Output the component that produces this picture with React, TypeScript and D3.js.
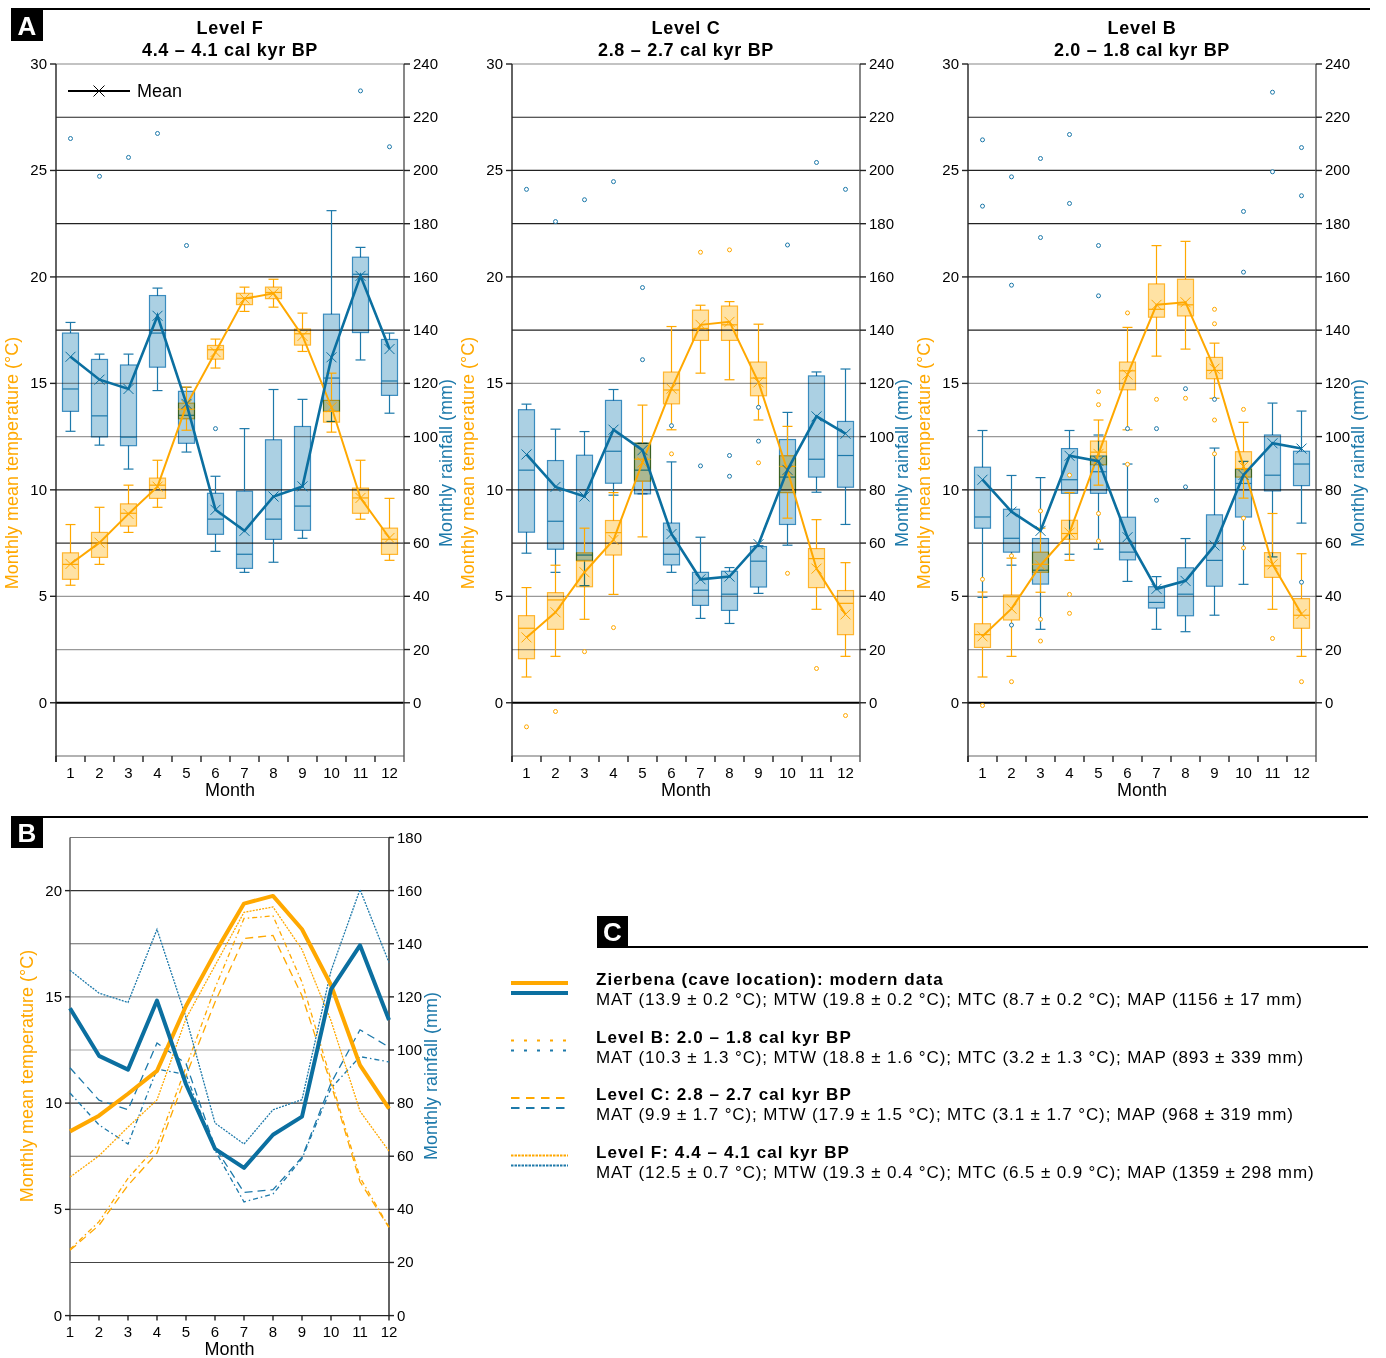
import React from "react";
import * as d3 from "d3";

// months and ticks
const months = [1, 2, 3, 4, 5, 6, 7, 8, 9, 10, 11, 12];
const tempTicksA = [0, 5, 10, 15, 20, 25, 30];
const rainTicksA = [0, 20, 40, 60, 80, 100, 120, 140, 160, 180, 200, 220, 240];
const tempTicksB = [0, 5, 10, 15, 20];
const rainTicksB = [0, 20, 40, 60, 80, 100, 120, 140, 160, 180];

// box stats per month: [low whisker, q1, median, q3, high whisker, mean]
const levelFTemp = [
  [5.52, 5.8, 6.5, 7.04, 8.37, 6.52], [6.5, 6.83, 7.5, 8.0, 9.18, 7.52],
  [8.0, 8.3, 8.9, 9.34, 10.22, 8.87], [9.18, 9.6, 10.22, 10.55, 11.39, 10.15],
  [12.8, 13.34, 13.79, 14.07, 14.83, 13.98], [15.72, 16.14, 16.58, 16.78, 17.08, 16.47],
  [18.38, 18.7, 19.0, 19.23, 19.52, 18.98], [18.58, 18.98, 19.27, 19.52, 19.89, 19.23],
  [16.5, 16.8, 17.33, 17.55, 18.3, 17.23], [12.71, 13.18, 13.68, 14.2, 15.48, 13.88],
  [8.62, 8.9, 9.62, 10.08, 11.39, 9.62], [6.69, 6.97, 7.68, 8.2, 9.6, 7.74],
];
const levelFRain = [
  [102, 109.5, 117.9, 138.9, 142.9, 130], [96.8, 99.9, 107.8, 129, 131, 121.4],
  [87.8, 96.6, 99.8, 126.9, 131, 117.9], [117.3, 126.1, 138.9, 153, 155.8, 145.4],
  [94.2, 97.5, 108, 117, 118.5, 112.3], [56.9, 63.3, 69, 78.7, 85.1, 72.5],
  [49, 50.5, 55.8, 79.5, 103, 64.6], [52.8, 61.4, 69, 98.8, 117.7, 77.5],
  [61.8, 64.8, 73.9, 103.8, 114, 81.3], [105.7, 109.5, 122, 146, 184.9, 129.8],
  [128.8, 139.1, 161, 167.4, 171.1, 160.4], [108.8, 115.5, 120.9, 136.5, 138.9, 132.9],
];
const levelFTempOut: number[][] = [];
const levelFRainOut = [[1, 212], [2, 197.8], [3, 204.9], [4, 213.9], [5, 171.8], [6, 103], [11, 229.9], [12, 208.9]];

const levelCTemp = [
  [1.21, 2.07, 3.5, 4.09, 5.41, 3.07], [2.18, 3.45, 4.83, 5.17, 6.46, 4.25],
  [3.92, 5.45, 6.66, 7.04, 8.2, 6.13], [5.09, 6.94, 7.99, 8.56, 9.87, 7.65],
  [7.79, 10.41, 11.44, 12.19, 13.98, 11.29], [12.82, 14.04, 14.69, 15.53, 17.67, 14.75],
  [15.48, 17.02, 17.58, 18.44, 18.67, 17.75], [15.17, 17.02, 17.75, 18.63, 18.84, 17.89],
  [13.28, 14.42, 15.25, 16.0, 17.78, 15.05], [8.67, 9.87, 11.1, 11.6, 12.98, 10.9],
  [4.39, 5.41, 6.77, 7.24, 8.6, 6.3], [2.18, 3.2, 4.67, 5.27, 6.58, 4.15],
];
const levelCRain = [
  [56.2, 64.1, 87.4, 110.1, 112.2, 93.3], [49, 57.7, 68.2, 91, 102.8, 81.1],
  [44, 53.5, 55.5, 93, 101.9, 77.5], [78, 82.5, 94.5, 113.6, 117.7, 102.6],
  [78.5, 78.5, 87.4, 97.5, 97.5, 94.9], [49, 51.8, 55.8, 67.5, 90.5, 63.4],
  [31.7, 36.6, 42.3, 49, 62.2, 46.4], [29.8, 34.7, 40.8, 49.4, 50.8, 47.4],
  [41.1, 43.5, 53.2, 58.7, 59, 59.6], [59.2, 67, 84.8, 98.9, 109.1, 87.5],
  [79.1, 84.8, 91.5, 122.8, 124.3, 107.6], [67, 81, 92.9, 105.7, 125.4, 101.1],
];
const levelCTempOut = [[1, -1.13], [2, -0.41], [3, 2.4], [4, 3.53], [6, 11.69], [7, 21.16], [8, 21.27], [9, 11.27], [10, 6.08], [11, 1.61], [12, -0.6]];
const levelCRainOut = [[1, 192.9], [2, 180.8], [3, 189], [4, 195.8], [5, 156], [5, 128.9], [6, 104.1], [7, 89], [8, 92.9], [8, 85.1], [9, 111], [9, 98.3], [10, 172], [11, 203], [12, 192.9]];

const levelBTemp = [
  [1.21, 2.6, 3.2, 3.71, 5.2, 3.12], [2.18, 3.89, 4.98, 5.06, 6.79, 4.42],
  [5.19, 6.13, 6.5, 7.07, 8.2, 6.46], [6.69, 7.68, 7.95, 8.57, 9.87, 7.99],
  [10.22, 11.18, 11.77, 12.29, 13.28, 11.69], [12.82, 14.7, 15.59, 16.0, 17.63, 15.41],
  [16.28, 18.11, 18.48, 19.67, 21.47, 18.69], [16.61, 18.17, 18.69, 19.89, 21.67, 18.81],
  [14.3, 15.22, 15.61, 16.22, 16.89, 15.69], [9.61, 10.6, 11.0, 11.79, 13.17, 11.1],
  [4.39, 5.89, 6.43, 7.05, 8.89, 6.5], [2.18, 3.5, 4.11, 4.89, 7.0, 4.17],
];
const levelBRain = [
  [39.6, 65.6, 69.8, 88.5, 102.3, 83.8], [51.7, 56.6, 61.8, 72.7, 85.4, 71.8],
  [27.6, 44.6, 49.8, 61.7, 84.6, 64.6], [55.8, 78.7, 83.8, 95.5, 102.3, 92.8],
  [57.7, 78.7, 86.8, 92.7, 100.6, 90.8], [45.6, 53.7, 56.6, 69.7, 89.7, 62.2],
  [27.6, 35.6, 37.7, 43.6, 47.4, 42.8], [26.7, 32.7, 40.8, 50.7, 61.7, 45.8],
  [32.9, 43.8, 53.5, 70.6, 95.7, 59.1], [44.5, 69.8, 82.4, 87.8, 90.7, 85.6],
  [54.8, 79.6, 85.5, 100.6, 112.6, 97.5], [67.5, 81.6, 89.7, 94.5, 109.6, 95.5],
];
const levelBTempOut = [[1, 5.8], [1, -0.13], [2, 6.9], [2, 0.99], [3, 9.01], [3, 3.92], [3, 2.9], [4, 10.69], [4, 5.09], [4, 4.2], [5, 14.61], [5, 14.0], [5, 8.89], [5, 7.6], [6, 18.31], [6, 11.2], [7, 14.25], [8, 14.3], [9, 18.48], [9, 17.8], [9, 13.28], [9, 11.69], [10, 13.78], [10, 8.67], [10, 7.27], [11, 3.02], [12, 0.99]];
const levelBRainOut = [[1, 211.5], [1, 186.6], [2, 29.2], [2, 197.6], [2, 156.9], [3, 204.5], [3, 174.8], [4, 213.5], [4, 187.6], [5, 171.8], [5, 152.9], [6, 103], [7, 76.1], [7, 103], [8, 81.1], [8, 118], [9, 114], [10, 184.6], [10, 161.8], [11, 229.4], [11, 199.5], [12, 45.3], [12, 208.6], [12, 190.5]];

// modern (Zierbena) climate
const modernTemp = [8.67, 9.41, 10.44, 11.52, 14.57, 17.07, 19.39, 19.75, 18.18, 15.56, 11.79, 9.74];
const modernRain = [115.7, 97.8, 92.6, 118.6, 87.1, 62.8, 55.6, 68.1, 74.9, 122.8, 139.4, 111.3];

const ORANGE = "#FFA800";
const BLUE = "#0B6FA0";
const BLUE_BOX = "#ABD0E3";
const BLUE_EDGE = "#3A8CBF";
const BLUE_WHISK = "#1D79AA";
const ORANGE_BOX = "#FFE2A4";
const ORANGE_EDGE = "#FFB52E";
const FONT = "Liberation Sans, Arial, sans-serif";

const gridA: [number, string][] = [
  [2.5, "#999"], [5, "#999"], [7.5, "#333"], [10, "#222"], [12.5, "#999"], [15, "#999"],
  [17.5, "#222"], [20, "#222"], [22.5, "#222"], [25, "#222"], [27.5, "#222"],
];
const gridB: [number, string][] = [
  [2.5, "#444"], [5, "#888"], [7.5, "#666"], [10, "#333"], [12.5, "#aaa"], [15, "#999"],
  [17.5, "#666"], [20, "#333"],
];

function Cross({ cx, cy, color, s = 5 }) {
  return (
    <g stroke={color} strokeWidth={1}>
      <line x1={cx - s} y1={cy - s} x2={cx + s} y2={cy + s} />
      <line x1={cx - s} y1={cy + s} x2={cx + s} y2={cy - s} />
    </g>
  );
}

function Boxes({ stats, x, y, fill, edge, whisk, bw }) {
  return (
    <g>
      {stats.map((s, i) => {
        const cx = x(months[i]) + x.bandwidth() / 2;
        const [lo, q1, med, q3, hi] = s;
        return (
          <g key={i}>
            <line x1={cx} x2={cx} y1={y(lo)} y2={y(q1)} stroke={whisk} strokeWidth={1.2} />
            <line x1={cx} x2={cx} y1={y(q3)} y2={y(hi)} stroke={whisk} strokeWidth={1.2} />
            <line x1={cx - 5} x2={cx + 5} y1={y(lo)} y2={y(lo)} stroke={whisk} strokeWidth={1.2} />
            <line x1={cx - 5} x2={cx + 5} y1={y(hi)} y2={y(hi)} stroke={whisk} strokeWidth={1.2} />
            <rect x={cx - bw / 2} y={y(q3)} width={bw} height={Math.max(0.5, y(q1) - y(q3))}
              fill={fill} stroke={edge} strokeWidth={1.2} style={{ mixBlendMode: "multiply" }} />
            <line x1={cx - bw / 2} x2={cx + bw / 2} y1={y(med)} y2={y(med)} stroke={whisk} strokeWidth={1.2} />
          </g>
        );
      })}
    </g>
  );
}

function BoxPanel({ x0, title, period, temp, rain, tempOut, rainOut, showLegend }) {
  const W = 348;
  const top = 64, bottom = 756;
  const x = d3.scaleBand().domain(months).range([x0, x0 + W]);
  const yT = d3.scaleLinear().domain([-2.5, 30]).range([bottom, top]);
  const yR = d3.scaleLinear().domain([-20, 240]).range([bottom, top]);
  const cx = (m) => x(m) + x.bandwidth() / 2;
  const tLine = d3.line<number[]>().x((d, i) => cx(months[i])).y((d) => yT(d[5]));
  const rLine = d3.line<number[]>().x((d, i) => cx(months[i])).y((d) => yR(d[5]));
  const mid = x0 + W / 2;
  return (
    <g fontFamily={FONT}>
      <text x={mid} y={34} textAnchor="middle" fontWeight="bold" fontSize={18} letterSpacing={0.7}>{title}</text>
      <text x={mid} y={56} textAnchor="middle" fontWeight="bold" fontSize={18} letterSpacing={0.7}>{period}</text>
      {gridA.map(([v, c]) => (
        <line key={v} x1={x0} x2={x0 + W} y1={yT(v)} y2={yT(v)} stroke={c} strokeWidth={1.2} />
      ))}
      <line x1={x0} x2={x0 + W} y1={top} y2={top} stroke="#888" strokeWidth={1.2} />
      <line x1={x0} x2={x0 + W} y1={bottom} y2={bottom} stroke="#666" strokeWidth={1.2} />
      <line x1={x0} x2={x0 + W} y1={yT(0)} y2={yT(0)} stroke="#000" strokeWidth={2.2} />
      <line x1={x0} x2={x0} y1={top} y2={bottom + 6} stroke="#222" strokeWidth={1.4} />
      <line x1={x0 + W} x2={x0 + W} y1={top} y2={bottom + 6} stroke="#555" strokeWidth={1.4} />
      {tempTicksA.map((t) => (
        <g key={t}>
          <line x1={x0 - 6} x2={x0} y1={yT(t)} y2={yT(t)} stroke="#222" strokeWidth={1.4} />
          <text x={x0 - 9} y={yT(t) + 5} textAnchor="end" fontSize={15}>{t}</text>
        </g>
      ))}
      {rainTicksA.map((t) => (
        <g key={t}>
          <line x1={x0 + W} x2={x0 + W + 6} y1={yR(t)} y2={yR(t)} stroke="#222" strokeWidth={1.4} />
          <text x={x0 + W + 9} y={yR(t) + 5} fontSize={15}>{t}</text>
        </g>
      ))}
      {months.map((m) => (
        <g key={m}>
          <line x1={x(m)} x2={x(m)} y1={bottom} y2={bottom + 6} stroke="#222" strokeWidth={1.4} />
          <text x={cx(m)} y={778} textAnchor="middle" fontSize={15}>{m}</text>
        </g>
      ))}
      <text x={mid} y={796} textAnchor="middle" fontSize={18}>Month</text>
      <text transform={`translate(${x0 - 38},463) rotate(-90)`} textAnchor="middle" fontSize={18} fill={ORANGE}>
        Monthly mean temperature (°C)
      </text>
      <text transform={`translate(${x0 + W + 48},463) rotate(-90)`} textAnchor="middle" fontSize={18} fill={BLUE_WHISK}>
        Monthly rainfall (mm)
      </text>
      <Boxes stats={rain} x={x} y={yR} fill={BLUE_BOX} edge={BLUE_EDGE} whisk={BLUE_WHISK} bw={16} />
      <Boxes stats={temp} x={x} y={yT} fill={ORANGE_BOX} edge={ORANGE_EDGE} whisk={ORANGE} bw={16} />
      {rainOut.map(([m, v], i) => (
        <circle key={"r" + i} cx={cx(m)} cy={yR(v)} r={2} fill="white" stroke={BLUE_WHISK} strokeWidth={1} />
      ))}
      {tempOut.map(([m, v], i) => (
        <circle key={"t" + i} cx={cx(m)} cy={yT(v)} r={2} fill="white" stroke={ORANGE} strokeWidth={1} />
      ))}
      <path d={tLine(temp)} fill="none" stroke={ORANGE} strokeWidth={2} />
      {temp.map((d, i) => <Cross key={"ct" + i} cx={cx(months[i])} cy={yT(d[5])} color={ORANGE} />)}
      <path d={rLine(rain)} fill="none" stroke={BLUE} strokeWidth={2.6} />
      {rain.map((d, i) => <Cross key={"cr" + i} cx={cx(months[i])} cy={yR(d[5])} color={BLUE} />)}
      {showLegend && (
        <g>
          <line x1={x0 + 12} x2={x0 + 74} y1={91} y2={91} stroke="#000" strokeWidth={2} />
          <Cross cx={x0 + 43} cy={91} color="#000" s={5.5} />
          <text x={x0 + 81} y={97} fontSize={18}>Mean</text>
        </g>
      )}
    </g>
  );
}

const levelSeries = [
  { name: "Level B: 2.0 – 1.8 cal kyr BP", stats: "MAT (10.3 ± 1.3 °C); MTW (18.8 ± 1.6 °C); MTC (3.2 ± 1.3 °C); MAP (893 ± 339 mm)", temp: levelBTemp, rain: levelBRain, dash: "5,3,1.5,3", keyDash: "3,10" },
  { name: "Level C: 2.8 – 2.7 cal kyr BP", stats: "MAT (9.9 ± 1.7 °C); MTW (17.9 ± 1.5 °C); MTC (3.1 ± 1.7 °C); MAP (968 ± 319 mm)", temp: levelCTemp, rain: levelCRain, dash: "8,5", keyDash: "8.5,6.5" },
  { name: "Level F: 4.4 – 4.1 cal kyr BP", stats: "MAT (12.5 ± 0.7 °C); MTW (19.3 ± 0.4 °C); MTC (6.5 ± 0.9 °C); MAP (1359 ± 298 mm)", temp: levelFTemp, rain: levelFRain, dash: "2,1.2", keyDash: "2.5,1" },
];

function PanelB() {
  const left = 70, right = 389, top = 837.5, bottom = 1315.6;
  const x = d3.scalePoint().domain(months).range([left, right]);
  const yT = d3.scaleLinear().domain([0, 22.5]).range([bottom, top]);
  const yR = d3.scaleLinear().domain([0, 180]).range([bottom, top]);
  const tl = d3.line<number>().x((d, i) => x(months[i])).y((d) => yT(d));
  const rl = d3.line<number>().x((d, i) => x(months[i])).y((d) => yR(d));
  return (
    <g fontFamily={FONT}>
      {gridB.map(([v, c]) => (
        <line key={v} x1={left} x2={right} y1={yT(v)} y2={yT(v)} stroke={c} strokeWidth={1.2} />
      ))}
      <line x1={left} x2={right} y1={top} y2={top} stroke="#777" strokeWidth={1.2} />
      <line x1={left} x2={right} y1={bottom} y2={bottom} stroke="#222" strokeWidth={1.4} />
      <line x1={left} x2={left} y1={top} y2={bottom} stroke="#555" strokeWidth={1.4} />
      <line x1={right} x2={right} y1={top} y2={bottom} stroke="#222" strokeWidth={1.4} />
      {tempTicksB.map((t) => (
        <g key={t}>
          <line x1={left - 5} x2={left} y1={yT(t)} y2={yT(t)} stroke="#222" strokeWidth={1.4} />
          <text x={left - 8} y={yT(t) + 5} textAnchor="end" fontSize={15}>{t}</text>
        </g>
      ))}
      {rainTicksB.map((t) => (
        <g key={t}>
          <line x1={right} x2={right + 5} y1={yR(t)} y2={yR(t)} stroke="#222" strokeWidth={1.4} />
          <text x={right + 8} y={yR(t) + 5} fontSize={15}>{t}</text>
        </g>
      ))}
      {months.map((m) => (
        <g key={m}>
          <line x1={x(m)} x2={x(m)} y1={bottom} y2={bottom + 5} stroke="#222" strokeWidth={1.4} />
          <text x={x(m)} y={1337} textAnchor="middle" fontSize={15}>{m}</text>
        </g>
      ))}
      <text x={(left + right) / 2} y={1355} textAnchor="middle" fontSize={18}>Month</text>
      <text transform={`translate(33,1076) rotate(-90)`} textAnchor="middle" fontSize={18} fill={ORANGE}>
        Monthly mean temperature (°C)
      </text>
      <text transform={`translate(437,1076) rotate(-90)`} textAnchor="middle" fontSize={18} fill={BLUE_WHISK}>
        Monthly rainfall (mm)
      </text>
      {levelSeries.map((s) => (
        <g key={s.name}>
          <path d={tl(s.temp.map((d) => d[5]))} fill="none" stroke={ORANGE} strokeWidth={1.3} strokeDasharray={s.dash} />
          <path d={rl(s.rain.map((d) => d[5]))} fill="none" stroke={BLUE_WHISK} strokeWidth={1.3} strokeDasharray={s.dash} />
        </g>
      ))}
      <path d={tl(modernTemp)} fill="none" stroke={ORANGE} strokeWidth={4} strokeLinejoin="round" />
      <path d={rl(modernRain)} fill="none" stroke={BLUE} strokeWidth={4} strokeLinejoin="round" />
    </g>
  );
}

function Legend() {
  const rows = [
    { name: "Zierbena (cave location): modern data", stats: "MAT (13.9 ± 0.2 °C); MTW (19.8 ± 0.2 °C); MTC (8.7 ± 0.2 °C); MAP (1156 ± 17 mm)", keyDash: null },
    ...levelSeries,
  ];
  return (
    <g fontFamily={FONT}>
      {rows.map((r, i) => {
        const by = 985 + i * 57.5;
        const modern = r.keyDash === null;
        return (
          <g key={r.name}>
            <line x1={511} x2={568} y1={by - 2} y2={by - 2} stroke={ORANGE} strokeWidth={modern ? 4 : 2} strokeDasharray={r.keyDash || undefined} />
            <line x1={511} x2={568} y1={by + 8} y2={by + 8} stroke={modern ? BLUE : BLUE_WHISK} strokeWidth={modern ? 4 : 2} strokeDasharray={r.keyDash || undefined} />
            <text x={596} y={by} fontSize={17} fontWeight="bold" letterSpacing={1.1}>{r.name}</text>
            <text x={596} y={by + 20} fontSize={17} letterSpacing={0.88}>{r.stats}</text>
          </g>
        );
      })}
    </g>
  );
}

function Tag({ x, y, w, h, label }) {
  return (
    <g>
      <rect x={x} y={y} width={w} height={h} fill="#000" />
      <text x={x + w / 2} y={y + h / 2 + 9} textAnchor="middle" fill="#fff" fontFamily={FONT} fontWeight="bold" fontSize={26}>{label}</text>
    </g>
  );
}

export default function App() {
  return (
    <svg width={1386} height={1358} style={{ position: "absolute", left: 0, top: 0, background: "#fff" }}>
      <rect width={1386} height={1358} fill="#fff" />
      <line x1={11} x2={1370} y1={9} y2={9} stroke="#000" strokeWidth={2.2} />
      <Tag x={11} y={10} w={32} h={31} label="A" />
      <BoxPanel x0={56} title="Level F" period="4.4 – 4.1 cal kyr BP" temp={levelFTemp} rain={levelFRain} tempOut={levelFTempOut} rainOut={levelFRainOut} showLegend />
      <BoxPanel x0={512} title="Level C" period="2.8 – 2.7 cal kyr BP" temp={levelCTemp} rain={levelCRain} tempOut={levelCTempOut} rainOut={levelCRainOut} showLegend={false} />
      <BoxPanel x0={968} title="Level B" period="2.0 – 1.8 cal kyr BP" temp={levelBTemp} rain={levelBRain} tempOut={levelBTempOut} rainOut={levelBRainOut} showLegend={false} />
      <line x1={11} x2={1368} y1={817} y2={817} stroke="#000" strokeWidth={2.2} />
      <Tag x={11} y={818} w={32} h={30} label="B" />
      <PanelB />
      <line x1={597} x2={1368} y1={947} y2={947} stroke="#000" strokeWidth={2.2} />
      <Tag x={597} y={916} w={31} h={31} label="C" />
      <Legend />
    </svg>
  );
}
